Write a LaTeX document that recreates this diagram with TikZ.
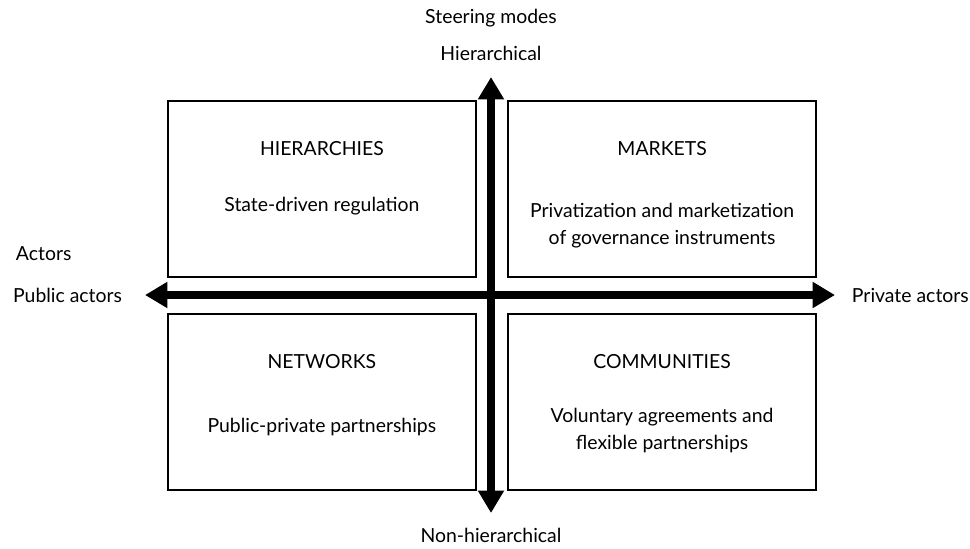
\documentclass[tikz,border=0pt]{standalone}
\usepackage{fontspec}
\setmainfont{Lato}
\usepackage{tikz}
\usetikzlibrary{arrows.meta, positioning, calc}

\begin{document}
\begin{tikzpicture}[
    quad/.style={draw, line width=1.6pt, minimum width=7.7cm, minimum height=4.4cm},
    title/.style={font=\fontsize{13.8}{16}\selectfont},
    body/.style={align=center, font=\fontsize{13.8}{19.2}\selectfont},
    axis/.style={line width=2.2mm, -{Triangle[width=6.2mm,length=5.6mm]}},
    axislabel/.style={font=\fontsize{13.8}{16}\selectfont}
]
    \useasboundingbox (-12.275,-6.325) rectangle (11.975,7.375);
    \coordinate (centre) at (0,0);

    % Quadrants
    \node[quad, above left=0.43cm and 0.35cm of centre] (hier) {};
    \node[quad, above right=0.43cm and 0.40cm of centre] (market) {};
    \node[quad, below left=0.45cm and 0.35cm of centre] (network) {};
    \node[quad, below right=0.45cm and 0.40cm of centre] (community) {};

    % Axes
    \coordinate (top) at (0,5.45);
    \coordinate (bottom) at (0,-5.45);
    \coordinate (left) at (-8.65,0);
    \coordinate (right) at (8.6,0);
    \draw[axis] (centre) -- (top);
    \draw[axis] (centre) -- (bottom);
    \draw[axis] (centre) -- (left);
    \draw[axis] (centre) -- (right);

    % Axis labels
    \node[axislabel] (hierlabel) at (0,6.05) {Hierarchical};
    \node[axislabel] (steering) at (0,6.93) {Steering modes};
    \node[axislabel] (nonhier) at (0,-6.0) {Non-hierarchical};
    \node[axislabel, left=0.45cm of left] (public) {Public actors};
    \node[axislabel, right=0.3cm of right] (private) {Private actors};
    \node[axislabel, anchor=west] (actors) at (-12.0,1.03) {Actors};

    % Quadrant texts
    \node[title, below=0.92cm of hier.north] (hiertitle) {HIERARCHIES};
    \node[body] (hierbody) at ($(hiertitle)+(0,-1.45)$) {State-driven regulation};

    \node[title, below=0.92cm of market.north] (markettitle) {MARKETS};
    \node[body] (marketbody) at ($(markettitle)+(0,-1.94)$) {Privatization and marketization\\of governance instruments};

    \node[title, below=0.92cm of network.north] (networktitle) {NETWORKS};
    \node[body] (networkbody) at ($(networktitle)+(0,-1.63)$) {Public-private partnerships};

    \node[title, below=0.92cm of community.north] (communitytitle) {COMMUNITIES};
    \node[body] (communitybody) at ($(communitytitle)+(0,-1.71)$) {Voluntary agreements and\\flexible partnerships};
\end{tikzpicture}
\end{document}
